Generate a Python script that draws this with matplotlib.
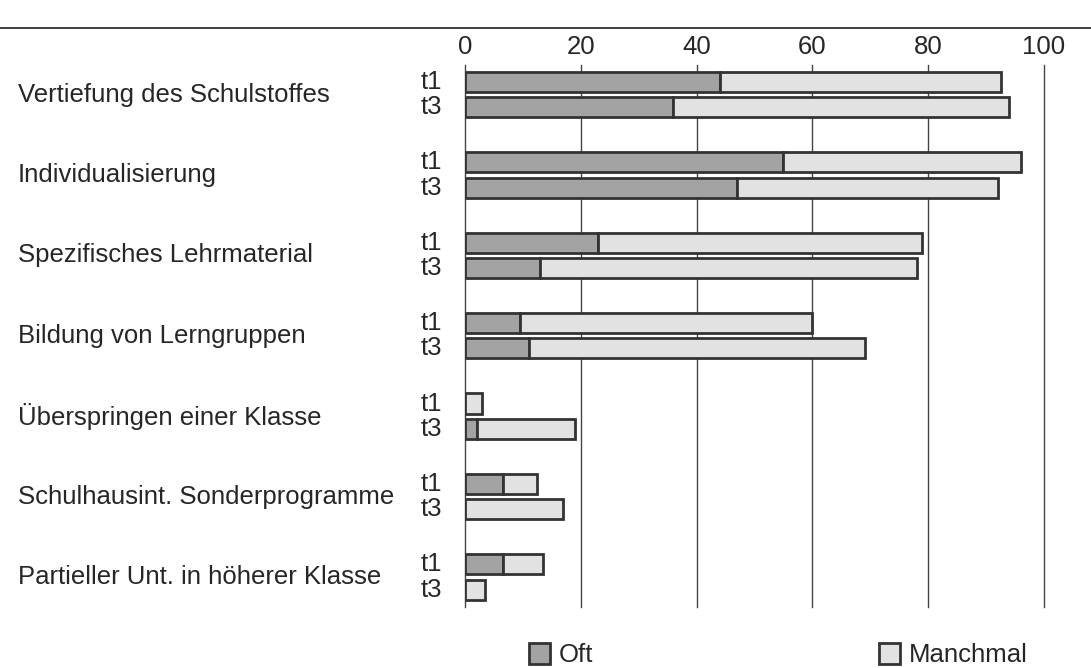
import matplotlib.pyplot as plt
import matplotlib.transforms as mtransforms
from matplotlib.patches import Patch
from matplotlib.lines import Line2D

# Data (percent)
categories = [
    "Vertiefung des Schulstoffes",
    "Individualisierung",
    "Spezifisches Lehrmaterial",
    "Bildung von Lerngruppen",
    "Überspringen einer Klasse",
    "Schulhausint. Sonderprogramme",
    "Partieller Unt. in höherer Klasse",
]
oft_t1 = [44, 55, 23, 9.5, 0, 6.5, 6.5]
oft_t3 = [36, 47, 13, 11, 2, 0, 0]
manchmal_t1 = [48.5, 41, 56, 50.5, 3, 6, 7]
manchmal_t3 = [58, 45, 65, 58, 17, 17, 3.5]
xticks = [0, 20, 40, 60, 80, 100]

FONT = "Liberation Sans"
TEXT_COLOR = "#262626"
OFT_COLOR = "#a3a3a3"
MANCHMAL_COLOR = "#e2e2e2"
EDGE_COLOR = "#333333"
FS = 18.5

plt.rcParams["font.family"] = FONT

fig = plt.figure(figsize=(10.91, 6.68), dpi=100)
ax = fig.add_axes([465 / 1091, 1 - 607 / 668, 579 / 1091, (607 - 65) / 668])

offset = 0.157
height = 0.25
for i in range(len(categories)):
    for y, oft, man in [(i - offset, oft_t1[i], manchmal_t1[i]),
                        (i + offset, oft_t3[i], manchmal_t3[i])]:
        if oft > 0:
            ax.barh(y, oft, height=height, color=OFT_COLOR, edgecolor=EDGE_COLOR,
                    linewidth=2, zorder=3)
        ax.barh(y, man, left=oft, height=height, color=MANCHMAL_COLOR,
                edgecolor=EDGE_COLOR, linewidth=2, zorder=3)

for x in xticks:
    ax.axvline(x, color="#444444", linewidth=1, zorder=1, clip_on=False)

ax.set_xlim(0, 100)
ax.set_ylim(6.373, -0.367)
ax.xaxis.tick_top()
ax.set_xticks(xticks)
ax.set_xticklabels([str(v) for v in xticks], fontsize=FS, color=TEXT_COLOR)
ax.tick_params(axis="x", length=0, pad=4)
ax.set_yticks([])
for s in ax.spines.values():
    s.set_visible(False)

trans = mtransforms.blended_transform_factory(fig.transFigure, ax.transData)
for i, cat in enumerate(categories):
    ax.text(18 / 1091, i, cat, transform=trans, ha="left", va="center",
            fontsize=FS, color=TEXT_COLOR)
    ax.text(442 / 1091, i - offset, "t1", transform=trans, ha="right",
            va="center", fontsize=FS, color=TEXT_COLOR)
    ax.text(442 / 1091, i + offset, "t3", transform=trans, ha="right",
            va="center", fontsize=FS, color=TEXT_COLOR)

# top rule
fig.add_artist(Line2D([0, 1], [1 - 28 / 668, 1 - 28 / 668], color="#333333",
                      linewidth=1.3, transform=fig.transFigure))

handles = [Patch(facecolor=OFT_COLOR, edgecolor=EDGE_COLOR, linewidth=2),
           Patch(facecolor=MANCHMAL_COLOR, edgecolor=EDGE_COLOR, linewidth=2)]
fig.legend(handles, ["Oft", "Manchmal"], ncol=2, frameon=False,
           loc="center left", bbox_to_anchor=(529 / 1091, 1 - 655 / 668),
           fontsize=FS, handlelength=0.8, handleheight=0.9, handletextpad=0.35,
           columnspacing=11.15, labelcolor=TEXT_COLOR, borderaxespad=0,
           borderpad=0)

fig.savefig("out.png", dpi=100)
